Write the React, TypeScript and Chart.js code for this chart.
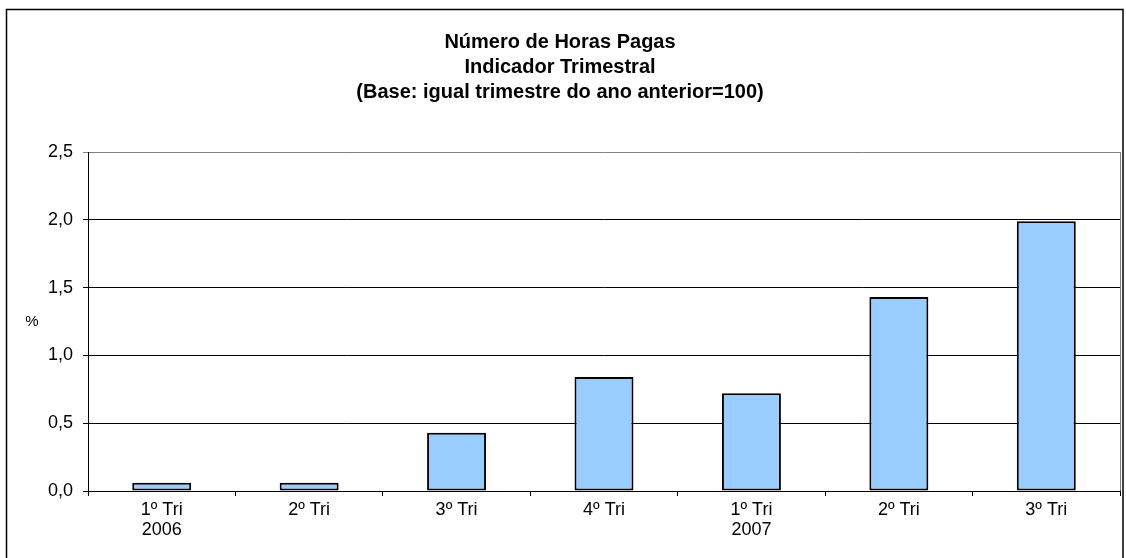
import React, { useEffect, useRef } from "react";
import { Chart, registerables } from "chart.js";

Chart.register(...registerables);

const categories: string[][] = [
  ["1º Tri", "2006"],
  ["2º Tri"],
  ["3º Tri"],
  ["4º Tri"],
  ["1º Tri", "2007"],
  ["2º Tri"],
  ["3º Tri"],
];
const values: number[] = [0.06, 0.06, 0.43, 0.84, 0.72, 1.43, 1.99];
const titleLines: string[] = [
  "Número de Horas Pagas",
  "Indicador Trimestral",
  "(Base: igual trimestre do ano anterior=100)",
];
const yAxisLabel = "%";
const yMin = 0;
const yMax = 2.5;
const yStep = 0.5;

const FONT = "'Liberation Sans', Arial, sans-serif";

const framePlugin = {
  id: "framePlugin",
  beforeDraw(chart: any) {
    const ctx = chart.ctx;
    ctx.save();
    ctx.fillStyle = "#ffffff";
    ctx.fillRect(0, 0, chart.width, chart.height);
    ctx.restore();
  },
  afterDraw(chart: any) {
    const ctx = chart.ctx;
    const area = chart.chartArea;
    ctx.save();
    // outer frame
    ctx.strokeStyle = "#000000";
    ctx.lineWidth = 1.5;
    ctx.strokeRect(6.5, 9.5, 1116.5, 620);
    // right border of plot area
    ctx.strokeStyle = "#808080";
    ctx.lineWidth = 1;
    ctx.beginPath();
    ctx.moveTo(Math.round(area.right) + 0.5, area.top);
    ctx.lineTo(Math.round(area.right) + 0.5, area.bottom);
    ctx.stroke();
    // y axis label
    ctx.fillStyle = "#000000";
    ctx.font = `15px ${FONT}`;
    ctx.textAlign = "center";
    ctx.textBaseline = "middle";
    ctx.fillText(yAxisLabel, 32, (area.top + area.bottom) / 2);
    ctx.restore();
  },
};

export default function App() {
  const canvasRef = useRef<HTMLCanvasElement | null>(null);

  useEffect(() => {
    if (!canvasRef.current) return;
    const chart = new Chart(canvasRef.current, {
      type: "bar",
      data: {
        labels: categories,
        datasets: [
          {
            data: values,
            backgroundColor: "#99CCFF",
            borderColor: "#000000",
            borderWidth: 2,
            borderSkipped: false,
            barPercentage: 0.4,
            categoryPercentage: 1,
          },
        ],
      },
      options: {
        animation: false,
        responsive: false,
        maintainAspectRatio: false,
        layout: { padding: { left: 0, right: 6, top: 0, bottom: 0 } },
        plugins: {
          legend: { display: false },
          tooltip: { enabled: false },
          title: {
            display: true,
            text: titleLines,
            color: "#000000",
            font: { family: FONT, size: 20, weight: "bold", lineHeight: 1.25 },
            padding: { top: 29.5, bottom: 47.5 },
          },
        },
        scales: {
          x: {
            offset: true,
            grid: {
              display: true,
              drawOnChartArea: false,
              drawTicks: true,
              tickLength: 5,
              color: "#000000",
              offset: true,
            },
            border: { display: true, color: "#000000", width: 1 },
            ticks: {
              color: "#000000",
              font: { family: FONT, size: 18, lineHeight: 1.1 },
              padding: 4,
              maxRotation: 0,
              autoSkip: false,
            },
            afterFit(scale: any) {
              scale.height = 67;
            },
          },
          y: {
            min: yMin,
            max: yMax,
            grid: {
              color: (ctx: any) =>
                ctx.tick && ctx.tick.value === yMax ? "#808080" : "#000000",
              tickLength: 5,
              drawTicks: true,
              lineWidth: 1,
            },
            border: { display: true, color: "#000000", width: 1 },
            ticks: {
              stepSize: yStep,
              color: "#000000",
              padding: 10,
              font: { family: FONT, size: 18 },
              callback: (v: any) => Number(v).toFixed(1).replace(".", ","),
            },
            afterFit(scale: any) {
              scale.width = 88;
            },
          },
        },
      },
      plugins: [framePlugin],
    });
    return () => chart.destroy();
  }, []);

  return (
    <div style={{ position: "absolute", left: 0, top: 0, width: 1126, height: 558, overflow: "hidden" }}>
      <canvas ref={canvasRef} width={1126} height={558} style={{ display: "block" }} />
    </div>
  );
}
